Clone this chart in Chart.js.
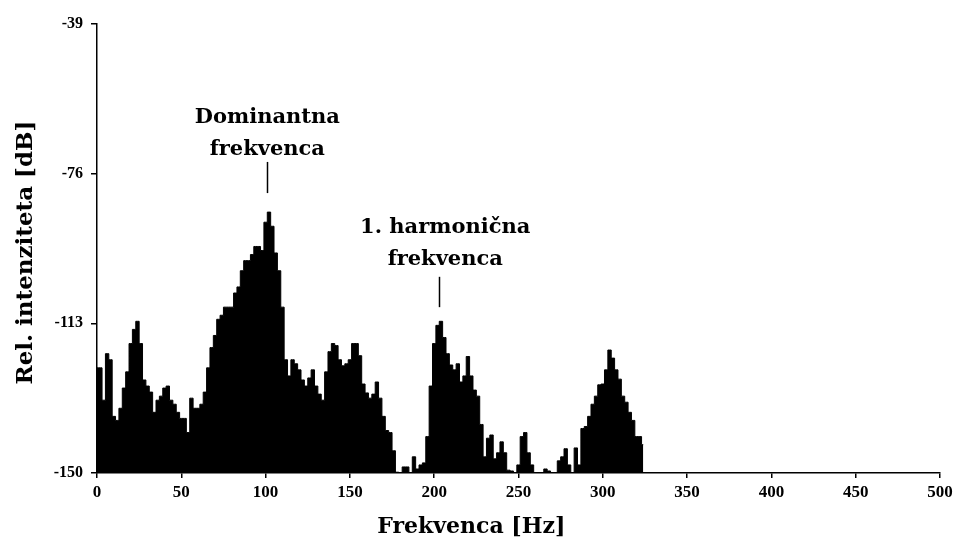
<!DOCTYPE html>
<html>
<head>
<meta charset="utf-8">
<script src="https://cdn.jsdelivr.net/npm/chart.js@4/dist/chart.umd.min.js"></script>
<style>
  body { margin: 0; background: #fff; }
  #wrap { width: 957px; height: 540px; }
</style>
</head>
<body>
<div id="wrap"><canvas id="graph"></canvas></div>
<script>
// spectrum, 2 Hz steps (Hz)
const freqs = [];
for (let f = 0; f <= 324; f += 2) freqs.push(f);

// relative intensity (dB), one per freq
const levels = [
  -124, -124, -132, -120.5, -122, -136, -137, -134, -129, -125,
  -118, -114.5, -112.5, -118, -127, -128.5, -130, -135, -132, -131,
  -129, -128.5, -132, -133, -135, -136.5, -136.5, -140, -131.5, -134,
  -134, -133, -130, -124, -119, -116, -112, -111, -109, -109,
  -109, -105.5, -104, -100, -97.5, -97.5, -96, -94, -94, -95,
  -88, -85.5, -89, -95.6, -100, -109, -122, -126, -122, -123,
  -124.5, -127, -128.5, -126.5, -124.5, -128.5, -130.5, -132, -125, -120,
  -118, -118.5, -122, -123.5, -123, -122, -118, -118, -121, -128,
  -130.2, -131.5, -130.5, -127.5, -131.5, -136, -139.5, -140, -144.5, -149.8,
  -150, -148.5, -148.5, -150, -146, -149, -148, -147.5, -141, -128.5,
  -118, -113.5, -112.5, -116.5, -120.5, -123.3, -124.5, -123, -127.5, -126,
  -121.2, -126, -129.5, -131, -138, -146, -141.4, -140.6, -146.5, -145,
  -142.3, -145, -149.3, -149.5, -150, -148, -141, -140, -145, -148,
  -150, -150, -150, -149, -149.5, -150, -150, -147, -146, -144,
  -148, -150, -143.8, -148, -139, -138.5, -136, -133, -131, -128.2,
  -128, -124.5, -119.6, -121.6, -124.5, -126.8, -131, -132.5, -135, -137,
  -141, -141, -143
];

const yTicks = [-150, -113, -76, -39];

// callouts: text lines, frequency of the marker, dB of first text baseline, marker top/bottom dB
const noteText = [['Dominantna', 'frekvenca'], ['1. harmonična', 'frekvenca']];
const noteFreq = [101, 203];
const noteTextDb = [-63.5, -90.7];
const noteLine = [[-73.1, -80.8], [-101.5, -109]];

const xTitle = 'Frekvenca [Hz]';
const yTitle = 'Rel. intenziteta [dB]';

const serif = '"DejaVu Serif", serif';
const xTickFont = { family: '"Liberation Serif", serif', size: 17, weight: 'bold' };
const yTickFont = { family: '"Liberation Serif", serif', size: 16, weight: 'bold' };

const notesPlugin = {
  id: 'notes',
  afterDatasetsDraw(chart) {
    const c = chart.ctx, xs = chart.scales.x, ys = chart.scales.y;
    c.save();
    c.fillStyle = '#000';
    c.strokeStyle = '#000';
    c.lineWidth = 1.5;
    c.font = 'bold 21px ' + serif;
    c.textAlign = 'center';
    c.textBaseline = 'alphabetic';
    for (let i = 0; i < noteText.length; i++) {
      const px = xs.getPixelForValue(noteFreq[i]);
      const py = ys.getPixelForValue(noteTextDb[i]);
      const lines = noteText[i];
      const shift = i == 1 ? 6 : 0;
      for (let j = 0; j < lines.length; j++) {
        c.fillText(lines[j], px + shift, py + j * 32);
      }
      c.beginPath();
      c.moveTo(Math.round(px) + 0.5, ys.getPixelForValue(noteLine[i][0]));
      c.lineTo(Math.round(px) + 0.5, ys.getPixelForValue(noteLine[i][1]));
      c.stroke();
    }
    // axis titles (x title sits left of centre in the original)
    c.font = 'bold 22px ' + serif;
    c.fillText(xTitle, xs.getPixelForValue(222), 533);
    c.translate(32, (ys.top + ys.bottom) / 2 + 4);
    c.rotate(-Math.PI / 2);
    c.font = 'bold 23px ' + serif;
    c.fillText(yTitle, 0, 0);
    c.restore();
  }
};

const data = freqs.map((f, i) => ({ x: f, y: levels[i] }));

const config = {
  type: 'line',
  data: {
    datasets: [{
      data: data,
      borderColor: '#000',
      backgroundColor: '#000',
      borderWidth: 1,
      pointRadius: 0,
      stepped: 'middle',
      fill: 'start',
    }]
  },
  options: {
    responsive: false,
    animation: false,
    layout: { padding: { left: 0, right: 17, top: 24, bottom: 0 } },
    plugins: { legend: { display: false }, tooltip: { enabled: false } },
    scales: {
      x: {
        type: 'linear',
        min: 0, max: 500,
        afterFit(axis) { axis.height = 67; },
        ticks: { stepSize: 50, color: '#000', font: xTickFont, maxRotation: 0, padding: 4 },
        grid: { drawOnChartArea: false, drawTicks: true, tickLength: 5, color: '#000', lineWidth: 1.5 },
        border: { color: '#000', width: 1.5 }
      },
      y: {
        min: -150, max: -39,
        afterFit(axis) { axis.width = 97; },
        afterBuildTicks(axis) { axis.ticks = yTicks.map(v => ({ value: v })); },
        ticks: { color: '#000', font: yTickFont, padding: 8 },
        grid: { drawOnChartArea: false, drawTicks: true, tickLength: 6, color: '#000', lineWidth: 1.5 },
        border: { color: '#000', width: 1.5 }
      }
    }
  },
  plugins: [notesPlugin]
};

const ctx = document.getElementById('graph');
ctx.width = 957;
ctx.height = 540;
var chart = new Chart(ctx, config);
</script>
</body>
</html>
